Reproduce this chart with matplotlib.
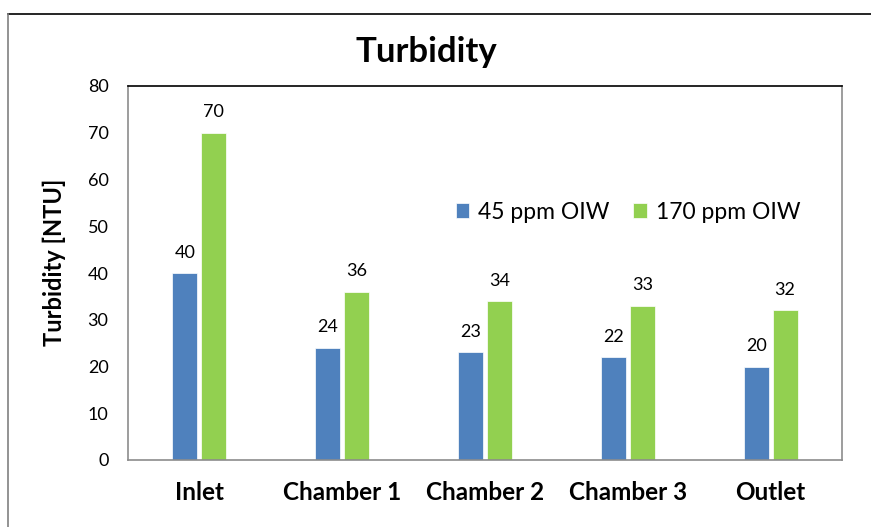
import matplotlib.pyplot as plt
from matplotlib.lines import Line2D
import numpy as np

# turbidity readings per sampling point
locations = ['Inlet', 'Chamber 1', 'Chamber 2', 'Chamber 3', 'Outlet']
oiw_45 = [40, 24, 23, 22, 20]
oiw_170 = [70, 36, 34, 33, 32]
series_names = ['45 ppm OIW', '170 ppm OIW']
yticks = [0, 10, 20, 30, 40, 50, 60, 70, 80]

plt.rcParams['font.family'] = ['Lato', 'DejaVu Sans']

fig = plt.figure(figsize=(8.71, 5.27), dpi=100)
ax = fig.add_axes([128 / 871, 67 / 527, 714 / 871, 374 / 527])

x = np.arange(len(locations))
w = 0.175
off = 0.1015
b1 = ax.bar(x - off, oiw_45, w, color='#4F81BD', edgecolor='white', linewidth=0.5, label=series_names[0])
b2 = ax.bar(x + off, oiw_170, w, color='#92D050', edgecolor='white', linewidth=0.5, label=series_names[1])

for bars, vals in [(b1, oiw_45), (b2, oiw_170)]:
    for bar, v in zip(bars, vals):
        ax.annotate(str(v), (bar.get_x() + bar.get_width() / 2, v),
                    xytext=(0, 9), textcoords='offset points',
                    ha='center', va='bottom', fontsize=13)

ax.set_xlim(-0.5, len(locations) - 0.5)
ax.set_ylim(0, 80)
ax.set_yticks(yticks)
ax.set_xticks(x)
ax.set_xticklabels(locations, fontsize=17.5, fontweight='bold')
ax.tick_params(axis='y', length=0, pad=14, labelsize=13)
ax.tick_params(axis='x', length=0, pad=15)

for side in ['left', 'bottom', 'right']:
    ax.spines[side].set_color('#8c8c8c')
ax.spines['top'].set_color('black')
for s in ax.spines.values():
    s.set_linewidth(1.2)

ax.set_ylabel('Turbidity [NTU]', fontsize=17, fontweight='bold')
ax.yaxis.set_label_coords(-0.087, 0.528)

fig.text(426 / 871, 1 - 52 / 527, 'Turbidity', fontsize=25, fontweight='bold',
         ha='center', va='center')

ax.legend(loc='center', bbox_to_anchor=(628 / 871, 1 - 212 / 527),
          bbox_transform=fig.transFigure, ncol=2, frameon=False,
          fontsize=16.5, handlelength=0.6, handleheight=0.6,
          handletextpad=0.4, columnspacing=1.0)

# chart area frame
fig.add_artist(Line2D([8 / 871, 1.0], [1 - 14 / 527] * 2, color='black', linewidth=1.2))
fig.add_artist(Line2D([8 / 871] * 2, [0, 1 - 14 / 527], color='#808080', linewidth=1.2))

fig.savefig('out.png', dpi=100)
